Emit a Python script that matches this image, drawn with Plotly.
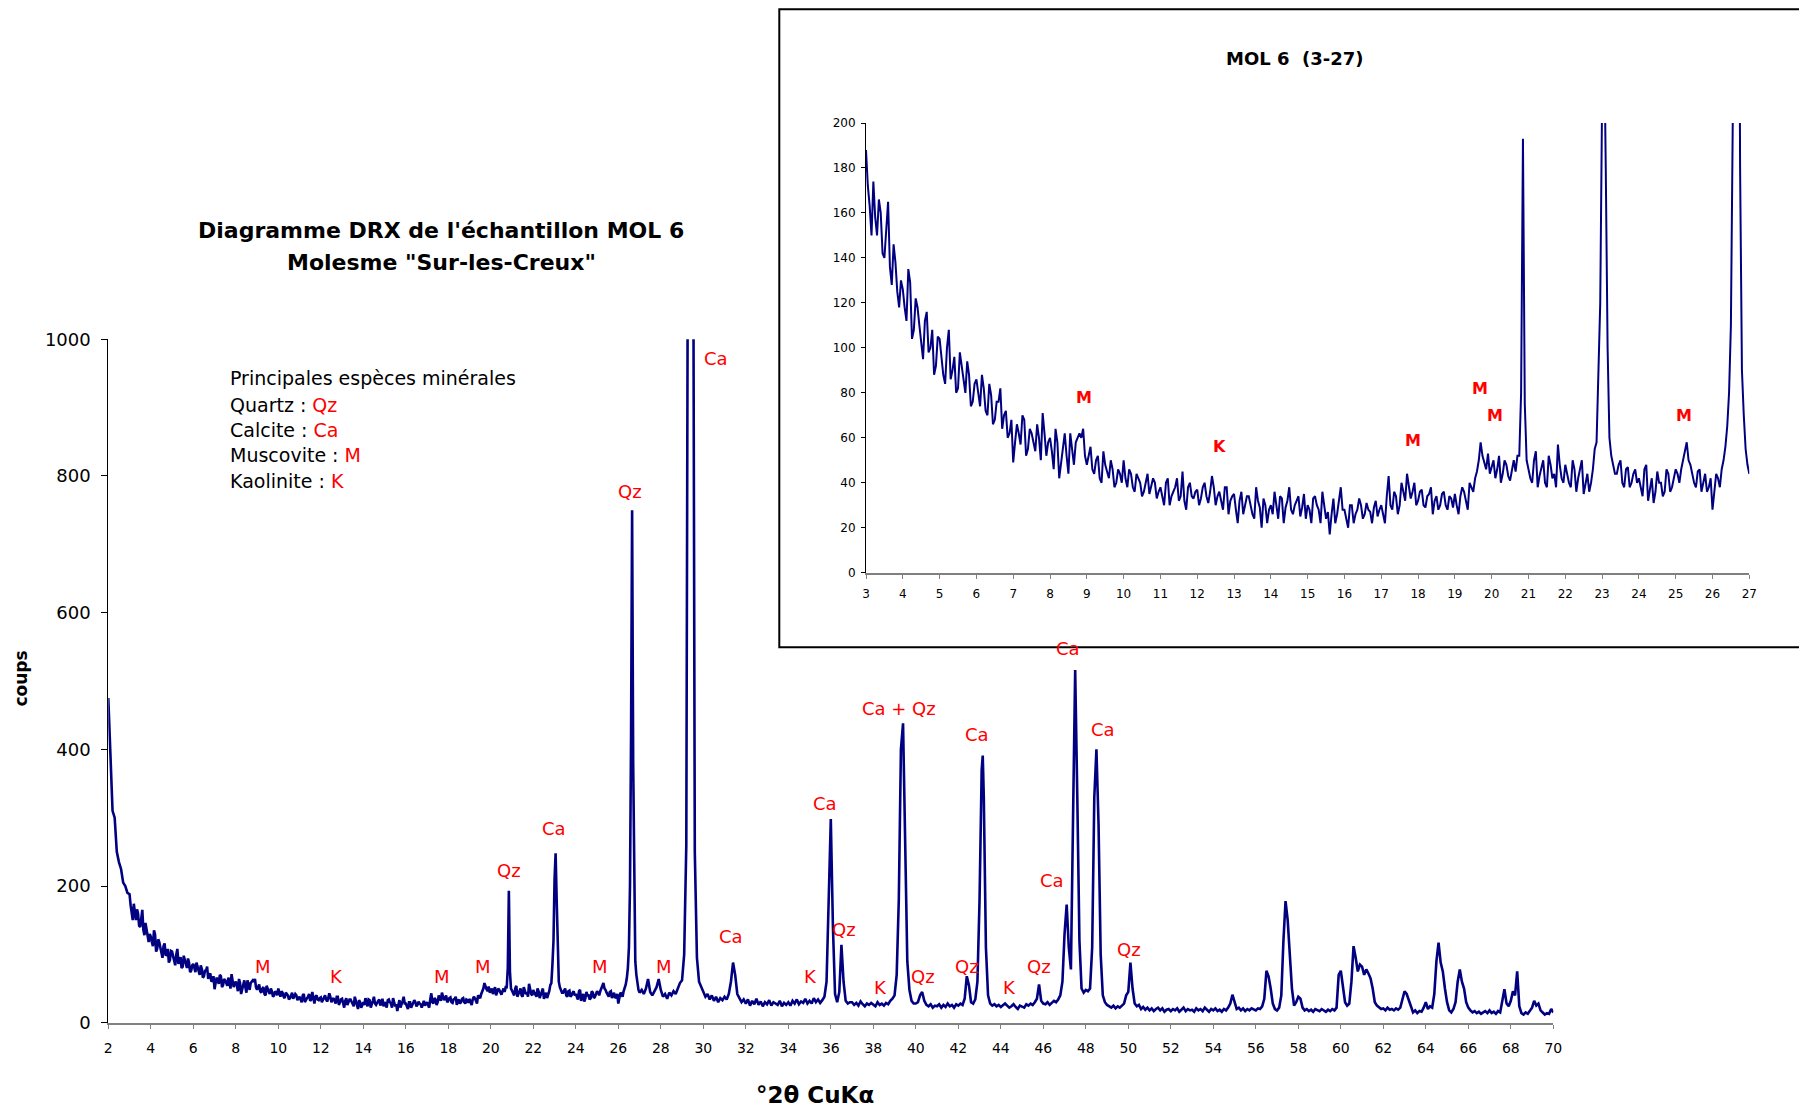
import plotly.graph_objects as go

# ---------------- data (counts) ----------------
# main scan: 0.1 deg steps from 2.0 to 70.0
scan_start = 2.0
scan_step = 0.1

counts_02_10 = [
    475, 400, 310, 300, 250, 235, 225, 205, 200, 190,
    188, 163, 174, 150, 160, 140, 165, 128, 138, 118,
    126, 112, 129, 108, 118, 102, 112, 98, 108, 92,
    104, 88, 100, 86, 96, 82, 92, 80, 88, 76,
    86, 74, 82, 70, 79, 68, 76, 64, 72, 62,
    49, 66, 57, 68, 55, 62, 54, 60, 71, 52,
    60, 46, 58, 48, 62, 44, 56, 58, 62, 64,
    48, 56, 44, 52, 40, 48, 42, 46, 40, 44,
]
counts_10_20 = [
    50, 38, 44, 36, 42, 34, 40, 35, 42, 33,
    38, 30, 42, 34, 38, 32, 45, 28, 40, 33,
    37, 33, 40, 31, 43, 30, 36, 28, 38, 32,
    35, 22, 36, 30, 34, 26, 38, 29, 33, 22,
    30, 36, 24, 33, 29, 38, 26, 32, 25, 35,
    30, 22, 34, 28, 36, 24, 17, 33, 26, 38,
    28, 20, 30, 26, 33, 24, 31, 27, 29, 25,
    30, 22, 43, 28, 34, 30, 36, 44, 33, 40,
    32, 37, 29, 35, 26, 34, 30, 36, 28, 33,
    35, 26, 38, 31, 40, 36, 45, 58, 49, 53,
]
counts_20_30 = [
    47, 42, 52, 44, 48, 41, 50, 52, 80, 75,
    46, 40, 54, 43, 50, 38, 48, 44, 57, 42,
    48, 40, 50, 36, 46, 35, 44, 40, 55, 85,
    210, 180, 60, 48, 44, 50, 38, 47, 40, 46,
    42, 34, 48, 38, 31, 45, 40, 36, 44, 38,
    46, 40, 50, 58, 48, 40, 45, 36, 44, 38,
    28, 44, 38, 50, 65, 110, 420, 380, 90, 55,
    44, 48, 42, 50, 64, 45, 40, 46, 52, 64,
    48, 38, 42, 35, 44, 40, 46, 42, 50, 58,
    62, 100, 260, 1500, 3600, 1500, 250, 95, 60, 52,
]
counts_30_40 = [
    45, 38, 42, 34, 40, 32, 38, 30, 36, 33,
    38, 34, 42, 60, 88, 70, 42, 36, 30, 34,
    28, 34, 25, 32, 27, 35, 26, 31, 24, 30,
    27, 33, 25, 30, 28, 26, 32, 24, 29, 26,
    30, 25, 32, 28, 34, 27, 31, 29, 35, 28,
    32, 28, 36, 30, 34, 29, 33, 38, 60, 180,
    298, 140, 42, 30, 45, 114, 60, 32, 28, 30,
    30, 26, 29, 25, 31, 27, 24, 28, 26, 29,
    27, 24, 30, 26, 28, 25, 29, 27, 32, 35,
    40, 70, 180, 400, 438, 280, 90, 48, 32, 28,
]
counts_40_50 = [
    28, 30, 40, 45, 32, 26, 24, 27, 22, 25,
    24, 27, 22, 26, 23, 28, 24, 26, 22, 27,
    25, 28, 26, 35, 68, 55, 30, 28, 34, 60,
    180, 370, 330, 110, 40, 28, 25, 27, 24, 26,
    23, 26, 28, 25, 22, 24, 27, 23, 20, 25,
    24, 22, 27, 25, 28, 26, 30, 35, 56, 32,
    28, 27, 30, 26, 29, 32, 30, 34, 40, 60,
    130, 173, 110, 78, 300, 516, 330, 120, 50, 44,
    48, 46, 50, 110, 330, 400, 290, 100, 40, 30,
    26, 24, 22, 25, 21, 24, 22, 25, 28, 40,
]
counts_50_60 = [
    45, 88, 50, 28, 24, 26, 20, 23, 19, 22,
    18, 21, 17, 20, 22, 18, 21, 16, 19, 20,
    17, 20, 18, 21, 16, 19, 22, 17, 20, 18,
    19, 16, 21, 18, 20, 17, 22, 19, 16, 20,
    18, 21, 17, 19, 16, 20, 18, 22, 28, 41,
    30, 20, 22, 18, 21, 17, 20, 18, 21, 19,
    18, 21, 20, 24, 35, 76, 68, 50, 28, 20,
    18, 22, 40, 120, 178, 150, 100, 50, 25, 30,
    38, 35, 22, 18, 20, 17, 19, 16, 20, 18,
    17, 20, 18, 16, 19, 17, 20, 18, 22, 70,
]
counts_60_70 = [
    76, 56, 30, 25, 28, 60, 112, 95, 75, 85,
    82, 70, 78, 72, 65, 50, 30, 25, 22, 20,
    21, 18, 22, 19, 20, 18, 21, 19, 22, 35,
    46, 42, 32, 22, 15, 18, 14, 17, 16, 22,
    30, 20, 24, 22, 42, 90, 117, 88, 75, 50,
    30, 18, 15, 20, 30, 60, 78, 60, 50, 30,
    22, 18, 15, 17, 14, 16, 13, 15, 17, 14,
    18, 14, 16, 13, 17, 15, 30, 49, 28, 24,
    32, 46, 40, 75, 24, 14, 12, 15, 13, 18,
    22, 32, 25, 28, 18, 15, 12, 14, 13, 20,
    15,
]
# intermediate steps (x.x5) between 3.05 and 26.95
fine_start = 3.05
counts_fine_03_15 = [
    172, 150, 158, 166, 142, 152, 136, 146, 125, 130,
    118, 135, 104, 122, 110, 95, 116, 100, 88, 105,
    96, 84, 108, 90, 80, 98, 86, 94, 74, 84,
    80, 88, 72, 84, 66, 76, 82, 70, 60, 68,
    58, 62, 70, 52, 64, 58, 66, 50, 62, 58,
    54, 64, 42, 56, 52, 62, 48, 60, 60, 52,
    52, 46, 50, 42, 54, 45, 50, 38, 46, 40,
    42, 46, 38, 44, 40, 36, 44, 38, 40, 36,
    34, 40, 30, 36, 42, 34, 32, 38, 34, 36,
    30, 38, 34, 36, 38, 34, 32, 38, 26, 34,
    28, 32, 26, 34, 30, 24, 32, 20, 30, 28,
    26, 30, 34, 22, 32, 28, 30, 34, 29, 24,
]
counts_fine_15_27 = [
    28, 33, 30, 22, 30, 27, 26, 22, 32, 28,
    24, 30, 22, 28, 30, 26, 28, 22, 32, 28,
    26, 34, 30, 36, 26, 40, 32, 38, 36, 30,
    36, 30, 34, 38, 32, 28, 35, 30, 34, 29,
    30, 34, 36, 28, 38, 42, 50, 52, 46, 44,
    50, 46, 40, 50, 43, 46, 45, 52, 193, 50,
    42, 50, 38, 46, 40, 52, 42, 38, 48, 40,
    44, 38, 46, 42, 50, 40, 36, 46, 58, 120,
    248, 100, 52, 44, 48, 40, 46, 38, 44, 40,
    38, 46, 32, 42, 36, 40, 34, 46, 36, 42,
    44, 46, 54, 50, 44, 38, 46, 40, 36, 42,
    36, 42, 46, 56, 80, 200, 750, 180, 70, 48,
]
# apex of the narrow calcite reflection lying between steps
apex_2theta = [43.15]
apex_counts = [391]

# peak labels (text, 2theta, counts)
main_labels = [
    ("Ca", 30.6, 972), ("Qz", 26.53, 777), ("Ca", 22.96, 284), ("Qz", 20.85, 222),
    ("M", 9.26, 82), ("K", 12.72, 67), ("M", 17.7, 67), ("M", 19.65, 82),
    ("M", 25.13, 82), ("M", 28.16, 82), ("Ca", 31.3, 126), ("Ca", 35.74, 321),
    ("K", 35.04, 67), ("Qz", 36.6, 137), ("Ca + Qz", 39.2, 460), ("K", 38.34, 51),
    ("Qz", 40.34, 67), ("Ca", 42.89, 422), ("Qz", 42.4, 82), ("K", 44.41, 51),
    ("Qz", 45.81, 82), ("Ca", 47.16, 547), ("Ca", 46.41, 208), ("Ca", 48.79, 429),
    ("Qz", 50.04, 107),
]
inset_labels = [
    ("M", 8.93, 78), ("K", 12.6, 56), ("M", 17.86, 59),
    ("M", 19.68, 82), ("M", 20.08, 70), ("M", 25.22, 70),
]

# ---------------- assemble series ----------------
grid_counts = (counts_02_10 + counts_10_20 + counts_20_30 + counts_30_40
               + counts_40_50 + counts_50_60 + counts_60_70)
grid_2theta = [round(scan_start + i * scan_step, 2) for i in range(len(grid_counts))]
fine_counts = counts_fine_03_15 + counts_fine_15_27
fine_2theta = [round(fine_start + i * scan_step, 2) for i in range(len(fine_counts))]
pts = sorted(list(zip(grid_2theta, grid_counts)) + list(zip(fine_2theta, fine_counts))
             + list(zip(apex_2theta, apex_counts)))
xs = [p[0] for p in pts]
ys = [p[1] for p in pts]
xs_in = [x for x, y in pts if 3 <= x <= 27]
ys_in = [y for x, y in pts if 3 <= x <= 27]

W, H = 1807, 1111
OFF = 8  # page body margin: figure starts 8px right/down in the browser
FONT = "DejaVu Sans, Liberation Sans, Arial, sans-serif"
NAVY = "#000080"

fig = go.Figure()
fig.add_trace(go.Scatter(x=xs, y=ys, mode="lines", line=dict(color=NAVY, width=2.6),
                         xaxis="x", yaxis="y", showlegend=False, hoverinfo="skip"))
fig.add_trace(go.Scatter(x=xs_in, y=ys_in, mode="lines", line=dict(color=NAVY, width=2.0),
                         xaxis="x2", yaxis="y2", showlegend=False, hoverinfo="skip"))

def px_x(p):
    return (p - OFF) / W

def px_y(p):
    return 1 - (p - OFF) / H

axis_common = dict(showgrid=False, zeroline=False, showline=True, ticks="outside",
                   automargin=False, tickfont=dict(family=FONT, color="black"))

fig.update_layout(
    width=W, height=H, margin=dict(l=0, r=0, t=0, b=0, pad=0, autoexpand=False),
    paper_bgcolor="white", plot_bgcolor="rgba(0,0,0,0)",
    xaxis=dict(**axis_common, domain=[px_x(108.3), px_x(1553.3)], range=[2, 70],
               tick0=2, dtick=2, ticklen=4, tickcolor="#808080", linecolor="#808080",
               linewidth=2, anchor="y", ticklabelstandoff=7),
    yaxis=dict(**axis_common, domain=[px_y(1022.7), px_y(339.3)], range=[0, 1000],
               dtick=200, ticklen=6, tickcolor="black", linecolor="black", linewidth=1,
               anchor="x", ticklabelstandoff=7),
    xaxis2=dict(**axis_common, domain=[px_x(866), px_x(1749.3)], range=[3, 27],
                tick0=3, dtick=1, ticklen=4, tickcolor="#808080", linecolor="#808080",
                linewidth=2, anchor="y2", ticklabelstandoff=5),
    yaxis2=dict(**axis_common, domain=[px_y(572.7), px_y(123)], range=[0, 200],
                dtick=20, ticklen=4, tickcolor="black", linecolor="black", linewidth=1,
                anchor="x2", ticklabelstandoff=3),
)
fig.layout.xaxis.tickfont.size = 14
fig.layout.yaxis.tickfont.size = 18
fig.layout.xaxis2.tickfont.size = 12
fig.layout.yaxis2.tickfont.size = 12

# inset frame (top edge kept just inside the figure area)
fig.add_shape(type="rect", xref="paper", yref="paper",
              x0=px_x(779.3), x1=1.02, y0=px_y(647.3), y1=px_y(OFF + 1.2),
              line=dict(color="black", width=2), fillcolor="white", layer="below")

ann = []
def txt(text, x, y, size, bold=False, color="black", xanchor="center", xref="paper", yref="paper", angle=0):
    t = f"<b>{text}</b>" if bold else text
    ann.append(dict(text=t, x=x, y=y, xref=xref, yref=yref, showarrow=False,
                    xanchor=xanchor, yanchor="middle", textangle=angle,
                    font=dict(family=FONT, size=size, color=color)))

txt("Diagramme DRX de l'échantillon MOL 6", px_x(440.8), px_y(230.5), 22, bold=True)
txt("Molesme \"Sur-les-Creux\"", px_x(441), px_y(262.7), 22, bold=True)
txt("coups", px_x(20.7), px_y(678.8), 17, bold=True, angle=-90)
txt("°2θ CuKα", px_x(814.7), px_y(1094.8), 23, bold=True)
txt("MOL 6\u00a0 (3-27)", px_x(1295), px_y(58), 18, bold=True)

legend_lines = [
    "Principales espèces minérales",
    "Quartz : <span style='color:#ff0000'>Qz</span>",
    "Calcite : <span style='color:#ff0000'>Ca</span>",
    "Muscovite : <span style='color:#ff0000'>M</span>",
    "Kaolinite : <span style='color:#ff0000'>K</span>",
]
legend_y = [378, 404.5, 429.9, 455.2, 480.6]
for line, yy in zip(legend_lines, legend_y):
    txt(line, px_x(228), px_y(yy), 19, xanchor="left")

for t, x, y in main_labels:
    txt(t, x, y, 18, color="#ff0000", xref="x", yref="y")
for t, x, y in inset_labels:
    txt(t, x, y, 16, bold=True, color="#ff0000", xref="x2", yref="y2")

fig.update_layout(annotations=ann)
fig.write_html("out.html")
